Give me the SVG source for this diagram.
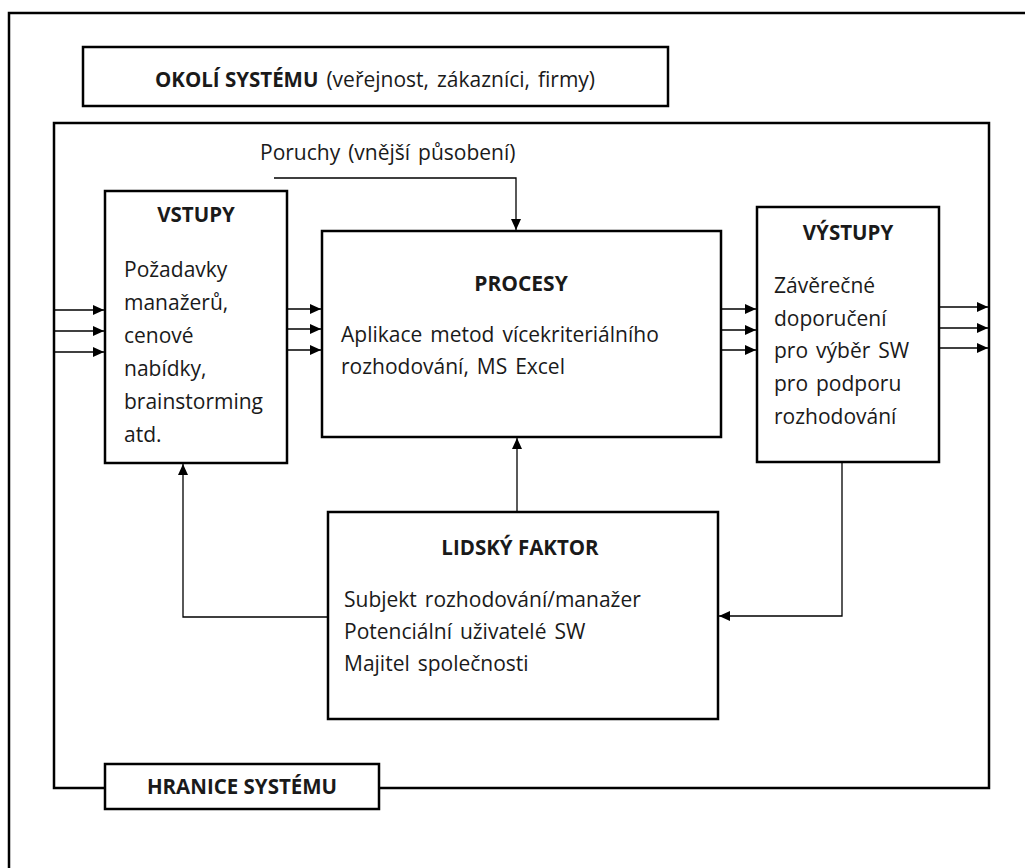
<svg xmlns="http://www.w3.org/2000/svg" width="1025" height="868" viewBox="0 0 1025 868">
<style>
.box{fill:#fff;stroke:#000;stroke-width:2.5}
.frame{fill:none;stroke:#000;stroke-width:2.5}
.con{fill:none;stroke:#000;stroke-width:1.3}
text{font-family:"Open Sans","DejaVu Sans",sans-serif;font-size:21px;word-spacing:2.5px;fill:#1a1a1a}
.b{font-weight:bold;font-size:20.5px;word-spacing:0}
.c{text-anchor:middle}
</style>
<defs>
<marker id="ah" markerUnits="userSpaceOnUse" markerWidth="12" markerHeight="10" refX="11" refY="5" orient="auto">
<path d="M0,0 L11,5 L0,10 z" fill="#000"/>
</marker>
</defs>
<rect width="1025" height="868" fill="#fff"/>
<path class="frame" d="M1025,13 H9 V868"/>
<g id="okoli">
<rect class="box" x="83" y="47" width="585" height="59"/>
<text x="375" y="87" class="c"><tspan class="b">OKOLÍ SYSTÉMU</tspan> (veřejnost, zákazníci, firmy)</text>
</g>
<g id="hranice">
<rect class="frame" x="54" y="123" width="935" height="665"/>
<rect class="box" x="105" y="764" width="274" height="45"/>
<text x="242" y="794" class="c b">HRANICE SYSTÉMU</text>
</g>
<text x="260" y="160">Poruchy (vnější působení)</text>
<g id="vstupy">
<rect class="box" x="105" y="191" width="182" height="272"/>
<text x="196" y="222" class="c b">VSTUPY</text>
<text x="124" y="277">Požadavky</text>
<text x="124" y="310">manažerů,</text>
<text x="124" y="343">cenové</text>
<text x="124" y="376">nabídky,</text>
<text x="124" y="409">brainstorming</text>
<text x="124" y="442">atd.</text>
</g>
<g id="procesy">
<rect class="box" x="322" y="231" width="399" height="206"/>
<text x="521" y="291" class="c b" style="font-size:21px">PROCESY</text>
<text x="341" y="342">Aplikace metod vícekriteriálního</text>
<text x="341" y="374">rozhodování, MS Excel</text>
</g>
<g id="vystupy">
<rect class="box" x="757" y="207" width="182" height="255"/>
<text x="848" y="240" class="c b">VÝSTUPY</text>
<text x="774" y="293">Závěrečné</text>
<text x="774" y="326">doporučení</text>
<text x="774" y="358">pro výběr SW</text>
<text x="774" y="391">pro podporu</text>
<text x="774" y="424">rozhodování</text>
</g>
<g id="lidsky">
<rect class="box" x="328" y="512" width="390" height="207"/>
<text x="520" y="555" class="c b">LIDSKÝ FAKTOR</text>
<text x="344" y="607">Subjekt rozhodování/manažer</text>
<text x="344" y="639">Potenciální uživatelé SW</text>
<text x="344" y="671">Majitel společnosti</text>
</g>
<g id="connectors">
<path class="con" d="M54,310 H104" marker-end="url(#ah)"/>
<path class="con" d="M54,331 H104" marker-end="url(#ah)"/>
<path class="con" d="M54,352 H104" marker-end="url(#ah)"/>
<path class="con" d="M287,309 H321" marker-end="url(#ah)"/>
<path class="con" d="M287,329 H321" marker-end="url(#ah)"/>
<path class="con" d="M287,350 H321" marker-end="url(#ah)"/>
<path class="con" d="M721,309 H756" marker-end="url(#ah)"/>
<path class="con" d="M721,330 H756" marker-end="url(#ah)"/>
<path class="con" d="M721,350 H756" marker-end="url(#ah)"/>
<path class="con" d="M939,307 H988" marker-end="url(#ah)"/>
<path class="con" d="M939,328 H988" marker-end="url(#ah)"/>
<path class="con" d="M939,348 H988" marker-end="url(#ah)"/>
<path class="con" d="M274,178 H516 V230" marker-end="url(#ah)"/>
<path class="con" d="M517,512 V438" marker-end="url(#ah)"/>
<path class="con" d="M328,617 H183 V464" marker-end="url(#ah)"/>
<path class="con" d="M842,462 V616 H719" marker-end="url(#ah)"/>
</g>
</svg>
